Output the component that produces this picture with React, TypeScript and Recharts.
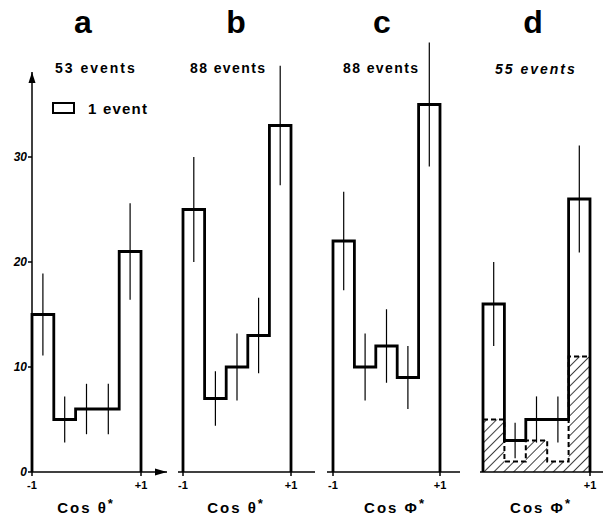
import { ComposedChart, Line, Area, Scatter, ErrorBar, XAxis, YAxis, ReferenceDot } from "recharts";

// bin edges / centres of cos axis, 5 bins
const edges = [-1, -0.6, -0.2, 0.2, 0.6];
const centers = [-0.8, -0.4, 0, 0.4, 0.8];
const yTicks = [0, 10, 20, 30];
const xTicks = [-1, 1];

const countsA = [15, 5, 6, 6, 21];
const errA = [3.9, 2.2, 2.4, 2.4, 4.6];
const countsB = [25, 7, 10, 13, 33];
const errB = [5, 2.6, 3.2, 3.6, 5.7];
const countsC = [22, 10, 12, 9, 35];
const errC = [4.7, 3.2, 3.5, 3, 5.9];
const countsD = [16, 3, 5, 5, 26];
const errD = [4, 1.7, 2.2, 2.2, 5.1];
const hatchedD = [5, 1, 3, 1, 11];

const FONT = "'Liberation Sans', Arial, sans-serif";
const BASE = 472; // pixel row of y = 0
const PX_PER_UNIT = 10.5;
const H = 521;

interface Geo {
  start: number; // baseline start px
  minus: number; // px of -1
  plus: number; // px of +1
  end: number; // baseline end px
}

interface PanelProps {
  counts: number[];
  errs: number[];
  hatched?: number[];
  geo: Geo;
  showY?: boolean;
}

function stepData(vals: number[], closed: boolean) {
  const pts = edges.map((e, i) => ({ x: e, y: vals[i] }));
  pts.push({ x: 1, y: vals[vals.length - 1] });
  if (closed) return [{ x: -1, y: 0 }, ...pts, { x: 1, y: 0 }];
  return pts;
}

const UpArrow = (p: any) => (
  <path d={`M${p.cx},${p.cy} L${p.cx - 3.5},${p.cy + 11} L${p.cx + 3.5},${p.cy + 11} Z`} fill="#000" />
);
const RightArrow = (p: any) => (
  <path d={`M${p.cx},${p.cy} L${p.cx - 12},${p.cy - 3.5} L${p.cx - 12},${p.cy + 3.5} Z`} fill="#000" />
);

function Panel({ counts, errs, hatched, geo, showY }: PanelProps) {
  const s = (geo.plus - geo.minus) / 2;
  const lo = -1 - (geo.minus - geo.start) / s;
  const hi = 1 + (geo.end - geo.plus) / s;
  const yw = showY ? 32 : 0;
  const top = showY ? 72 : 10;
  const yMax = (BASE - top) / PX_PER_UNIT;
  const right = 6;
  const width = geo.end - geo.start + yw + right;

  const line = stepData(counts, true);
  const bars = centers.map((c, i) => ({ x: c, y: counts[i], err: errs[i] }));
  const hatch = hatched ? stepData(hatched, false).map(d => ({ x: d.x, h: d.y })) : [];

  return (
    <div style={{ position: "absolute", left: geo.start - yw, top: 0 }}>
      <ComposedChart width={width} height={H} margin={{ top, right, bottom: 0, left: 0 }}>
        <defs>
          <pattern id="hatch" width="7" height="7" patternUnits="userSpaceOnUse" patternTransform="rotate(45)">
            <line x1="0" y1="0" x2="0" y2="7" stroke="#000" strokeWidth="1.5" />
          </pattern>
        </defs>
        <XAxis
          dataKey="x"
          type="number"
          domain={[lo, hi]}
          ticks={xTicks}
          height={H - BASE}
          tickSize={4}
          tickMargin={5}
          tickFormatter={v => (v > 0 ? "+1" : "-1")}
          axisLine={{ stroke: "#000", strokeWidth: 1.5 }}
          tickLine={{ stroke: "#000", strokeWidth: 1.5 }}
          tick={{ fill: "#000", fontSize: 11, fontWeight: "bold", fontFamily: FONT }}
        />
        <YAxis
          type="number"
          domain={[0, yMax]}
          allowDataOverflow
          ticks={yTicks}
          hide={!showY}
          width={yw}
          tickSize={4}
          tickMargin={1}
          axisLine={{ stroke: "#000", strokeWidth: 1.5 }}
          tickLine={{ stroke: "#000", strokeWidth: 1.5 }}
          tick={{ fill: "#000", fontSize: 12, fontWeight: "bold", fontStyle: "italic", fontFamily: FONT }}
        />
        {hatched && (
          <Area
            data={hatch}
            dataKey="h"
            type="stepAfter"
            fill="url(#hatch)"
            fillOpacity={1}
            stroke="#000"
            strokeWidth={2}
            strokeDasharray="5 3"
            dot={false}
            activeDot={false}
            isAnimationActive={false}
          />
        )}
        <Line
          data={line}
          dataKey="y"
          type="stepAfter"
          stroke="#000"
          strokeWidth={2.8}
          strokeLinejoin="miter"
          dot={false}
          activeDot={false}
          isAnimationActive={false}
        />
        <Scatter data={bars} dataKey="y" shape={() => <g />} isAnimationActive={false}>
          <ErrorBar dataKey="err" direction="y" width={0} stroke="#000" strokeWidth={1.2} />
        </Scatter>
        {showY && <ReferenceDot x={-1} y={yMax} ifOverflow="visible" shape={UpArrow} />}
        {showY && <ReferenceDot x={hi} y={0} ifOverflow="visible" shape={RightArrow} />}
      </ComposedChart>
    </div>
  );
}

const geoA = { start: 32, minus: 32, plus: 141, end: 167 };
const geoB = { start: 178, minus: 183, plus: 291, end: 315 };
const geoC = { start: 327, minus: 333, plus: 440, end: 460 };
const geoD = { start: 480, minus: 483, plus: 590, end: 603 };

const txt = { fontFamily: FONT, fontWeight: "bold", fill: "#000" } as const;

export default function App() {
  return (
    <div style={{ position: "absolute", left: 0, top: 0, width: 606, height: H, background: "#fff" }}>
      <Panel counts={countsA} errs={errA} geo={geoA} showY />
      <Panel counts={countsB} errs={errB} geo={geoB} />
      <Panel counts={countsC} errs={errC} geo={geoC} />
      <Panel counts={countsD} errs={errD} hatched={hatchedD} geo={geoD} />
      <svg width={606} height={H} style={{ position: "absolute", left: 0, top: 0, pointerEvents: "none" }}>
        <text x={83} y={33} fontSize={32} textAnchor="middle" {...txt}>a</text>
        <text x={236} y={33} fontSize={32} textAnchor="middle" {...txt}>b</text>
        <text x={382} y={33} fontSize={32} textAnchor="middle" {...txt}>c</text>
        <text x={533} y={33} fontSize={32} textAnchor="middle" {...txt}>d</text>

        <text x={55} y={73} fontSize={14} letterSpacing={2} {...txt}>53 events</text>
        <text x={190} y={73} fontSize={14} letterSpacing={1.4} {...txt}>88 events</text>
        <text x={343} y={73} fontSize={14} letterSpacing={1.4} {...txt}>88 events</text>
        <text x={495} y={74} fontSize={14} letterSpacing={2} fontStyle="italic" {...txt}>55 events</text>

        <rect x={53} y={103} width={21} height={10} fill="none" stroke="#000" strokeWidth={2} />
        <text x={88} y={114} fontSize={15} letterSpacing={1.2} {...txt}>1 event</text>

        <text x={86} y={513} fontSize={15} letterSpacing={2} textAnchor="middle" {...txt}>
          Cos θ<tspan dy={-5} fontSize={13}>*</tspan>
        </text>
        <text x={236} y={513} fontSize={15} letterSpacing={2} textAnchor="middle" {...txt}>
          Cos θ<tspan dy={-5} fontSize={13}>*</tspan>
        </text>
        <text x={395} y={513} fontSize={15} letterSpacing={2} textAnchor="middle" {...txt}>
          Cos Φ<tspan dy={-5} fontSize={13}>*</tspan>
        </text>
        <text x={541} y={513} fontSize={15} letterSpacing={2} textAnchor="middle" {...txt}>
          Cos Φ<tspan dy={-5} fontSize={13}>*</tspan>
        </text>
      </svg>
    </div>
  );
}
